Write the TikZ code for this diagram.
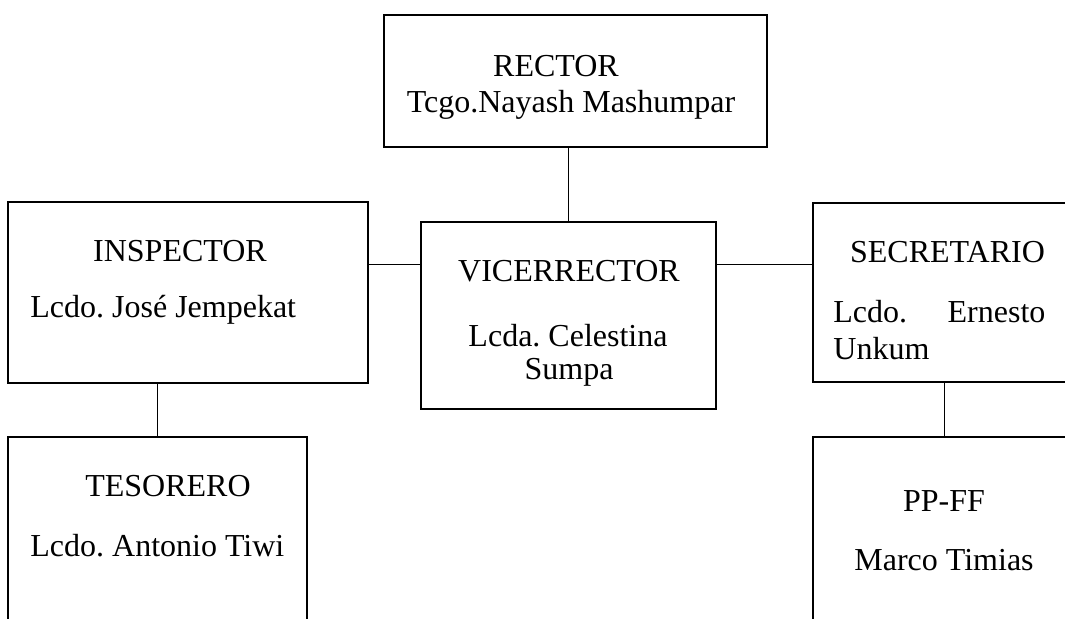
\documentclass[tikz,border=0pt]{standalone}
\usepackage{fontspec}
\setmainfont{Liberation Serif}
\frenchspacing
\begin{document}
\begin{tikzpicture}[x=0.5pt,y=-0.5pt,
  box/.style={draw,line width=1.1pt,inner sep=0pt,outer sep=0pt},
  txt/.style={inner sep=0pt,anchor=base,font=\fontsize{16pt}{18pt}\selectfont},
  link/.style={draw,line width=0.5pt}]
  \useasboundingbox (0,0) rectangle (1065,619);
  \clip (0,0) rectangle (1065,619);
  % boxes
  \node[box,minimum width=191.5pt,minimum height=66pt] (rector) at (575.5,81) {};
  \node[box,minimum width=180pt,minimum height=90.5pt] (insp) at (188,292.5) {};
  \node[box,minimum width=147.5pt,minimum height=93.5pt] (vice) at (568.5,315.5) {};
  \node[box,minimum width=131pt,minimum height=89.5pt] (secr) at (944,292.5) {};
  \node[box,minimum width=149.5pt,minimum height=106.5pt] (teso) at (157.5,543.5) {};
  \node[box,minimum width=131pt,minimum height=106.5pt] (ppff) at (944,543.5) {};
  % texts
  \node[txt] (rectorA) at (556,77) {RECTOR};
  \node[txt] (rectorB) at (571,113) {Tcgo.Nayash Mashumpar};
  \node[txt] (inspA) at (180,262) {INSPECTOR};
  \node[txt,anchor=base west] (inspB) at (30,318) {Lcdo. José Jempekat};
  \node[txt] (viceA) at (569,282) {VICERRECTOR};
  \node[txt] (viceB) at (568,347) {Lcda. Celestina};
  \node[txt] (viceC) at (569,380) {Sumpa};
  \node[txt] (secrA) at (947.5,263) {SECRETARIO};
  \node[txt,anchor=base west,text width=106pt] (secrB) at (833,323) {Lcdo.\hfill Ernesto};
  \node[txt,anchor=base west] (secrC) at (833,360) {Unkum};
  \node[txt] (tesoA) at (168,497) {TESORERO};
  \node[txt,anchor=base west] (tesoB) at (30,557) {Lcdo. Antonio Tiwi};
  \node[txt] (ppffA) at (944,512) {PP-FF};
  \node[txt] (ppffB) at (944,570) {Marco Timias};
  % links
  \coordinate (lvl) at (0,265);
  \path[link] (vice.north |- rector.south) -- (vice.north)
    (insp.east |- lvl) -- (vice.west |- lvl)
    (vice.east |- lvl) -- (secr.west |- lvl)
    (teso.north |- insp.south) -- (teso.north)
    (secr.south) -- (ppff.north);
\end{tikzpicture}
\end{document}
